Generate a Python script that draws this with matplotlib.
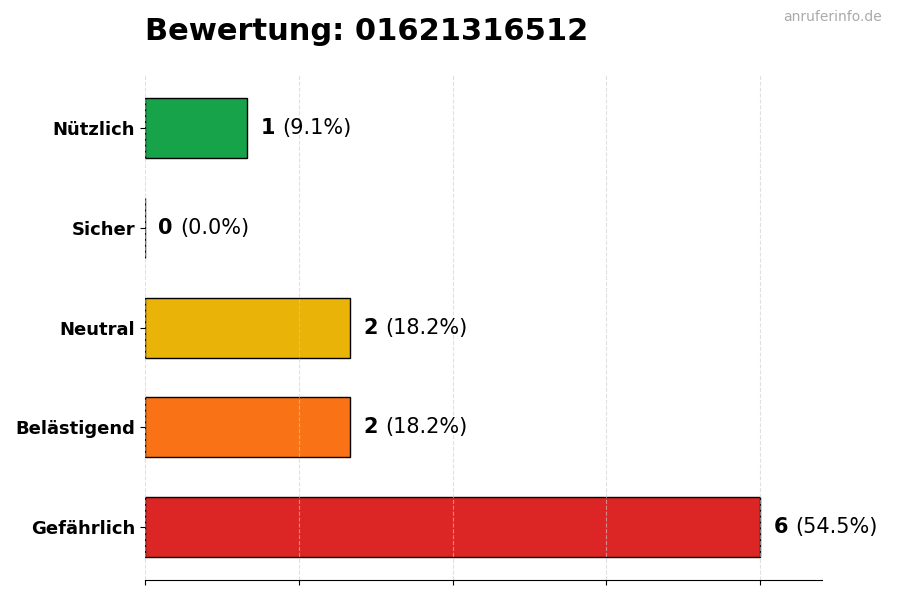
import matplotlib
matplotlib.use("Agg")
import matplotlib.pyplot as plt

categories = ["Gefährlich", "Belästigend", "Neutral", "Sicher", "Nützlich"]
counts = [6, 2, 2, 0, 1]
colors = ["#dc2626", "#f97316", "#eab308", "#6b7280", "#16a34a"]
title = "Bewertung: 01621316512"

total = sum(counts)
xmax = max(counts) * 1.1

fig, ax = plt.subplots(figsize=(9, 6), dpi=100)
fig.subplots_adjust(left=0.161, right=0.913, top=0.875, bottom=0.033)

ax.barh(categories, counts, height=0.6, color=colors, edgecolor="black",
        linewidth=1, zorder=2)
ax.set_xlim(0, xmax)
ax.set_xticks([0, 1.5, 3, 4.5, 6])
ax.set_xticklabels([])
ax.grid(axis="x", linestyle="--", color="#cccccc", alpha=0.6, zorder=3)
ax.set_axisbelow(False)
for s in ["top", "right", "left"]:
    ax.spines[s].set_visible(False)
ax.tick_params(axis="y", labelsize=13)
for lab in ax.get_yticklabels():
    lab.set_fontweight("bold")

for i, c in enumerate(counts):
    pct = c / total * 100
    t = ax.text(c + xmax * 0.02, i, str(c), fontsize=15, fontweight="bold",
                va="center", ha="left")
    ax.annotate(f"({pct:.1f}%)", xy=(1, 0.5), xycoords=t, xytext=(5, 0),
                textcoords="offset points", fontsize=15, va="center", ha="left")

fig.text(0.161, 0.948, title, fontsize=22, fontweight="bold", ha="left", va="center")
fig.text(0.98, 0.972, "anruferinfo.de", fontsize=10, color="#aaaaaa", ha="right", va="center")

fig.savefig("out.png")
